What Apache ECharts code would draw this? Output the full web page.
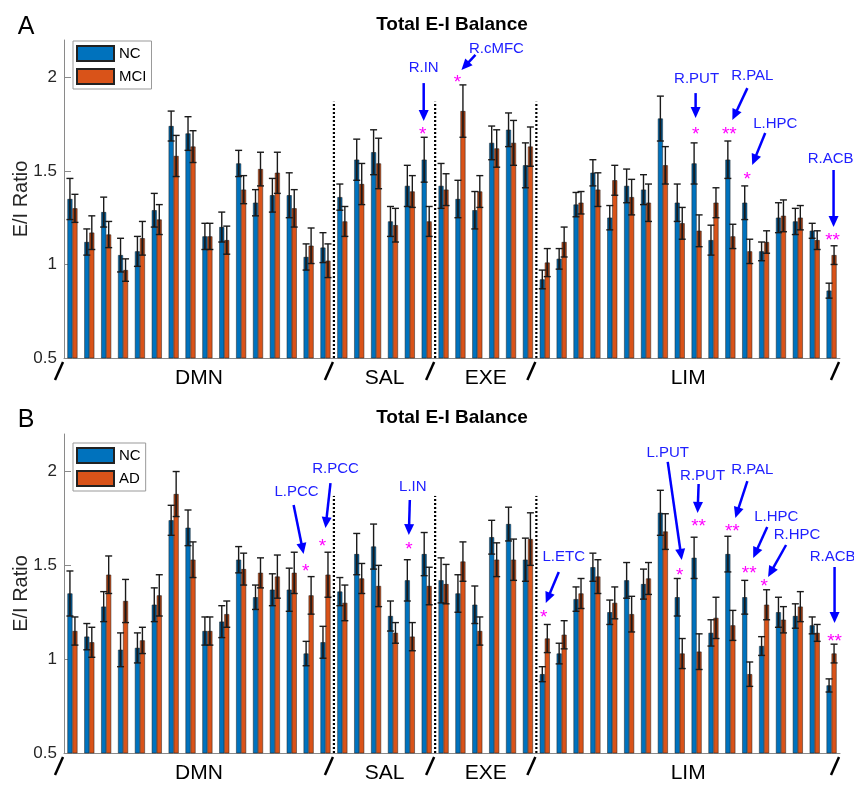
<!DOCTYPE html>
<html>
<head>
<meta charset="utf-8">
<script src="https://cdn.jsdelivr.net/npm/echarts@6/dist/echarts.min.js"></script>
<style>
html, body { margin: 0; padding: 0; background: #fff; }
#chart { width: 854px; height: 785px; }
</style>
</head>
<body>
<div id="chart"></div>
<script>
var sections = ['DMN', 'SAL', 'EXE', 'LIM'];
var sectionSizes = [16, 6, 6, 18];

// panel A: NC vs MCI (mean, sem)
var ncA = [1.35, 1.12, 1.28, 1.05, 1.07, 1.29, 1.74, 1.70, 1.15, 1.20, 1.54, 1.33, 1.37, 1.37, 1.04, 1.09,
    1.36, 1.56, 1.60, 1.23, 1.42, 1.56,
    1.42, 1.35, 1.29, 1.65, 1.72, 1.53,
    0.92, 1.03, 1.32, 1.49, 1.25, 1.42, 1.40, 1.78, 1.33, 1.54, 1.13, 1.56, 1.33, 1.07, 1.25, 1.23, 1.18, 0.86];
var ncErrA = [0.11, 0.07, 0.08, 0.09, 0.08, 0.09, 0.08, 0.09, 0.07, 0.08, 0.07, 0.07, 0.09, 0.12, 0.07, 0.08,
    0.07, 0.11, 0.12, 0.08, 0.11, 0.12,
    0.12, 0.10, 0.10, 0.09, 0.09, 0.12,
    0.05, 0.055, 0.065, 0.07, 0.065, 0.09, 0.08, 0.12, 0.10, 0.11, 0.08, 0.10, 0.09, 0.05, 0.08, 0.07, 0.04, 0.04];
var mciA = [1.30, 1.17, 1.16, 0.97, 1.14, 1.24, 1.58, 1.63, 1.15, 1.13, 1.40, 1.51, 1.49, 1.30, 1.10, 1.02,
    1.23, 1.43, 1.54, 1.21, 1.39, 1.23,
    1.40, 1.82, 1.39, 1.62, 1.65, 1.63,
    1.01, 1.12, 1.33, 1.40, 1.45, 1.36, 1.33, 1.53, 1.22, 1.18, 1.33, 1.15, 1.07, 1.12, 1.26, 1.25, 1.13, 1.05];
var mciErrA = [0.075, 0.09, 0.07, 0.06, 0.09, 0.08, 0.11, 0.085, 0.07, 0.075, 0.075, 0.09, 0.11, 0.10, 0.095, 0.09,
    0.08, 0.11, 0.135, 0.09, 0.085, 0.08,
    0.085, 0.14, 0.085, 0.10, 0.12, 0.105,
    0.075, 0.08, 0.06, 0.09, 0.08, 0.095, 0.10, 0.10, 0.085, 0.085, 0.08, 0.065, 0.065, 0.06, 0.085, 0.065, 0.05, 0.05];

// panel B: NC vs AD
var ncB = [1.35, 1.12, 1.28, 1.05, 1.06, 1.29, 1.74, 1.70, 1.15, 1.20, 1.53, 1.33, 1.37, 1.37, 1.03, 1.09,
    1.36, 1.56, 1.60, 1.23, 1.42, 1.56,
    1.42, 1.35, 1.29, 1.65, 1.72, 1.53,
    0.92, 1.03, 1.32, 1.49, 1.25, 1.42, 1.40, 1.78, 1.33, 1.54, 1.14, 1.56, 1.33, 1.07, 1.25, 1.23, 1.18, 0.86];
var ncErrB = [0.12, 0.07, 0.08, 0.09, 0.08, 0.09, 0.08, 0.095, 0.075, 0.085, 0.07, 0.065, 0.085, 0.115, 0.065, 0.085,
    0.075, 0.11, 0.12, 0.08, 0.11, 0.115,
    0.12, 0.10, 0.10, 0.09, 0.09, 0.115,
    0.04, 0.055, 0.065, 0.075, 0.065, 0.095, 0.08, 0.12, 0.10, 0.11, 0.07, 0.095, 0.09, 0.05, 0.08, 0.065, 0.045, 0.035];
var adB = [1.15, 1.09, 1.45, 1.31, 1.10, 1.34, 1.88, 1.53, 1.15, 1.24, 1.48, 1.46, 1.44, 1.46, 1.34, 1.45,
    1.30, 1.43, 1.39, 1.14, 1.12, 1.39,
    1.40, 1.52, 1.15, 1.53, 1.53, 1.64,
    1.11, 1.13, 1.35, 1.44, 1.30, 1.24, 1.43, 1.68, 1.03, 1.04, 1.22, 1.18, 0.92, 1.29, 1.21, 1.28, 1.14, 1.03];
var adErrB = [0.075, 0.08, 0.10, 0.115, 0.07, 0.11, 0.12, 0.095, 0.075, 0.07, 0.085, 0.08, 0.115, 0.11, 0.10, 0.12,
    0.095, 0.08, 0.11, 0.055, 0.075, 0.10,
    0.105, 0.105, 0.075, 0.09, 0.11, 0.14,
    0.075, 0.075, 0.08, 0.09, 0.085, 0.095, 0.085, 0.095, 0.08, 0.095, 0.11, 0.08, 0.065, 0.08, 0.07, 0.08, 0.045, 0.05];

// significant regions: [group index, name, stars, star height]
var sigA = [[21, 'R.IN', '*', 1.713], [23, 'R.cMFC', '*', 1.992], [37, 'R.PUT', '*', 1.713],
    [39, 'R.PAL', '**', 1.713], [40, 'L.HPC', '*', 1.473], [45, 'R.ACB', '**', 1.147]];
var sigB = [[14, 'L.PCC', '*', 1.486], [15, 'R.PCC', '*', 1.619], [20, 'L.IN', '*', 1.603],
    [28, 'L.ETC', '*', 1.241], [36, 'L.PUT', '*', 1.465], [37, 'R.PUT', '**', 1.726],
    [39, 'R.PAL', '**', 1.699], [40, 'L.HPC', '**', 1.475], [41, 'R.HPC', '*', 1.406],
    [45, 'R.ACB', '**', 1.113]];

// pixel offsets from the star: star dx, text x/y, arrow tail x/y, arrow head x/y
var sigLayoutA = [[-4, -3, -63, -3, -48, -3, -10], [-3, 36, -30, 15, -24, 1, -9], [-1, 0, -52, -1, -38, -1, -13],
    [-1, 22, -55, 17, -43, 2, -11], [0, 28, -52, 18, -43, 5, -11], [1, -1, -78, 2, -67, 2, -10]];
var sigLayoutB = [[-3, -12, -76, -15, -63, -5, -14], [-3, 10, -74, 5, -60, 0, -15], [-1, 3, -59, 0, -46, -1, -11],
    [-1, 19, -57, 14, -42, 1, -11], [0, -12, -119, -12, -110, 2, -12], [2, 6, -47, 2, -39, 1, -10],
    [2, 22, -58, 17, -47, 5, -10], [2, 29, -53, 20, -43, 6, -12], [0, 33, -48, 22, -38, 4, -6],
    [3, 1, -81, 3, -71, 3, -15]];

var sepTop = 1.87;
var FONT = '"Liberation Sans", Arial, sans-serif';
var categories = ncA.map(function (v, i) { return String(i + 1); });

function errorSeries(g, means, errs, side) {
    return {
        type: 'custom', xAxisIndex: g, yAxisIndex: g, z: 5, silent: true,
        data: means.map(function (m, i) { return [i, m, errs[i]]; }),
        encode: { x: 0, y: 1 },
        renderItem: function (params, api) {
            var i = api.value(0), m = api.value(1), e = api.value(2);
            var top = api.coord([i, m + e]), mid = api.coord([i, m]), bot = api.coord([i, m - e]);
            var x = top[0] + side * 2.5;
            var st = { stroke: '#1a1a1a', lineWidth: 1.4 };
            return {
                type: 'group', children: [
                    { type: 'rect', shape: { x: x - 1.5, y: mid[1], width: 3, height: bot[1] - mid[1] }, style: { fill: 'rgba(0,0,0,0.45)' } },
                    { type: 'line', shape: { x1: x, y1: top[1], x2: x, y2: bot[1] }, style: st },
                    { type: 'line', shape: { x1: x - 3.5, y1: top[1], x2: x + 3.5, y2: top[1] }, style: st },
                    { type: 'line', shape: { x1: x - 3.5, y1: bot[1], x2: x + 3.5, y2: bot[1] }, style: st }
                ]
            };
        }
    };
}

function slash(x, y) {
    return { type: 'line', shape: { x1: x - 9, y1: y + 22, x2: x - 1, y2: y + 4 }, style: { stroke: '#000', lineWidth: 2.5 } };
}

function decorSeries(g) {
    var data = [], start = 0;
    sections.forEach(function (name, k) {
        data.push([start, start + sectionSizes[k] - 1, k]);
        start += sectionSizes[k];
    });
    return {
        type: 'custom', xAxisIndex: g, yAxisIndex: g, z: 6, silent: true, clip: false,
        data: data,
        renderItem: function (params, api) {
            var s = api.value(0), e = api.value(1), k = api.value(2);
            var band = api.size([1, 0])[0];
            var p0 = api.coord([s, 0.5]), p1 = api.coord([e, 0.5]);
            var x0 = p0[0] - band / 2, x1 = p1[0] + band / 2, y0 = p0[1];
            var yTop = api.coord([e, sepTop])[1];
            var kids = [
                { type: 'text', style: { text: sections[k], x: (x0 + x1) / 2, y: y0 + 20, fill: '#000', font: '21px ' + FONT, align: 'center', verticalAlign: 'middle', textAlign: 'center', textVerticalAlign: 'middle' } },
                slash(x0, y0)
            ];
            if (k < sections.length - 1) {
                kids.push({ type: 'line', shape: { x1: x1, y1: y0, x2: x1, y2: yTop }, style: { stroke: '#000', lineWidth: 2.2, lineDash: [2, 2] } });
            } else {
                kids.push(slash(x1, y0));
            }
            return { type: 'group', children: kids };
        }
    };
}

function sigSeries(g, sig, layout) {
    return {
        type: 'custom', xAxisIndex: g, yAxisIndex: g, z: 7, silent: true, clip: false,
        data: sig.map(function (d, k) { return [d[0], d[3], k]; }),
        encode: { x: 0, y: 1 },
        renderItem: function (params, api) {
            var k = api.value(2), p = api.coord([api.value(0), api.value(1)]);
            var L = layout[k], cx = p[0], cy = p[1];
            var ax0 = cx + L[3], ay0 = cy + L[4], ax1 = cx + L[5], ay1 = cy + L[6];
            var ang = Math.atan2(ay1 - ay0, ax1 - ax0), hl = 11, hw = 5;
            var bx = ax1 - hl * Math.cos(ang), by = ay1 - hl * Math.sin(ang);
            var nx = -Math.sin(ang) * hw, ny = Math.cos(ang) * hw;
            return {
                type: 'group', children: [
                    { type: 'text', style: { text: sig[k][2], x: cx + L[0], y: cy + 4, fill: '#ff00ff', font: '19px ' + FONT, align: 'center', verticalAlign: 'middle', textAlign: 'center', textVerticalAlign: 'middle' } },
                    { type: 'text', style: { text: sig[k][1], x: cx + L[1], y: cy + L[2], fill: '#2020ff', font: '15px ' + FONT, align: 'center', verticalAlign: 'middle', textAlign: 'center', textVerticalAlign: 'middle' } },
                    { type: 'line', shape: { x1: ax0, y1: ay0, x2: bx + 2 * Math.cos(ang), y2: by + 2 * Math.sin(ang) }, style: { stroke: '#0000ff', lineWidth: 2.5 } },
                    { type: 'polygon', shape: { points: [[ax1, ay1], [bx + nx, by + ny], [bx - nx, by - ny]] }, style: { fill: '#0000ff' } }
                ]
            };
        }
    };
}

function barSeries(g, name, values, color) {
    return {
        name: name, type: 'bar', xAxisIndex: g, yAxisIndex: g, data: values,
        barWidth: 5, barGap: '0%', silent: true,
        itemStyle: { color: color, borderColor: '#222', borderWidth: 0.5 }
    };
}

function xAxis(g) {
    return {
        type: 'category', gridIndex: g, data: categories,
        axisLine: { lineStyle: { color: '#8a8a8a', width: 1 } },
        axisTick: { show: false }, axisLabel: { show: false }
    };
}

function yAxis(g) {
    return {
        type: 'value', gridIndex: g, min: 0.5, max: 2.2,
        name: 'E/I Ratio', nameLocation: 'middle', nameGap: 33, nameMoveOverlap: false,
        nameTextStyle: { fontSize: 20, color: '#262626', fontFamily: FONT },
        axisLine: { show: true, lineStyle: { color: '#8a8a8a', width: 1 } },
        axisTick: { show: true, inside: true, length: 7, lineStyle: { color: '#8a8a8a' }, customValues: [0.5, 1, 1.5, 2] },
        axisLabel: { fontSize: 17, color: '#262626', fontFamily: FONT, margin: 7, customValues: [0.5, 1, 1.5, 2] },
        splitLine: { show: false }
    };
}

function legend(top, names) {
    return {
        left: 73, top: top, orient: 'vertical', data: names, selectedMode: false,
        itemWidth: 37, itemHeight: 15, itemGap: 6, icon: 'rect',
        padding: [4, 5, 4, 3], borderColor: '#999', borderWidth: 1,
        textStyle: { fontSize: 15, color: '#000', fontFamily: FONT }
    };
}

var chart = echarts.init(document.getElementById('chart'));
chart.setOption({
    backgroundColor: '#fff',
    animation: false,
    grid: [
        { left: 64, top: 40, width: 776, height: 318, outerBoundsMode: 'none' },
        { left: 64, top: 434, width: 776, height: 319, outerBoundsMode: 'none' }
    ],
    xAxis: [xAxis(0), xAxis(1)],
    yAxis: [yAxis(0), yAxis(1)],
    legend: [legend(41, ['NC', 'MCI']), legend(443, ['NC', 'AD'])],
    graphic: [
        { type: 'text', x: 26, y: 27, style: { text: 'A', font: '25px ' + FONT, fill: '#000', align: 'center', verticalAlign: 'middle' } },
        { type: 'text', x: 26, y: 420, style: { text: 'B', font: '25px ' + FONT, fill: '#000', align: 'center', verticalAlign: 'middle' } },
        { type: 'text', x: 452, y: 25, style: { text: 'Total E-I Balance', font: 'bold 19px ' + FONT, fill: '#000', align: 'center', verticalAlign: 'middle' } },
        { type: 'text', x: 452, y: 418, style: { text: 'Total E-I Balance', font: 'bold 19px ' + FONT, fill: '#000', align: 'center', verticalAlign: 'middle' } }
    ],
    series: [
        barSeries(0, 'NC', ncA, '#0072bd'),
        barSeries(0, 'MCI', mciA, '#d95319'),
        errorSeries(0, ncA, ncErrA, -1),
        errorSeries(0, mciA, mciErrA, 1),
        decorSeries(0),
        sigSeries(0, sigA, sigLayoutA),
        barSeries(1, 'NC', ncB, '#0072bd'),
        barSeries(1, 'AD', adB, '#d95319'),
        errorSeries(1, ncB, ncErrB, -1),
        errorSeries(1, adB, adErrB, 1),
        decorSeries(1),
        sigSeries(1, sigB, sigLayoutB)
    ]
});
</script>
</body>
</html>
